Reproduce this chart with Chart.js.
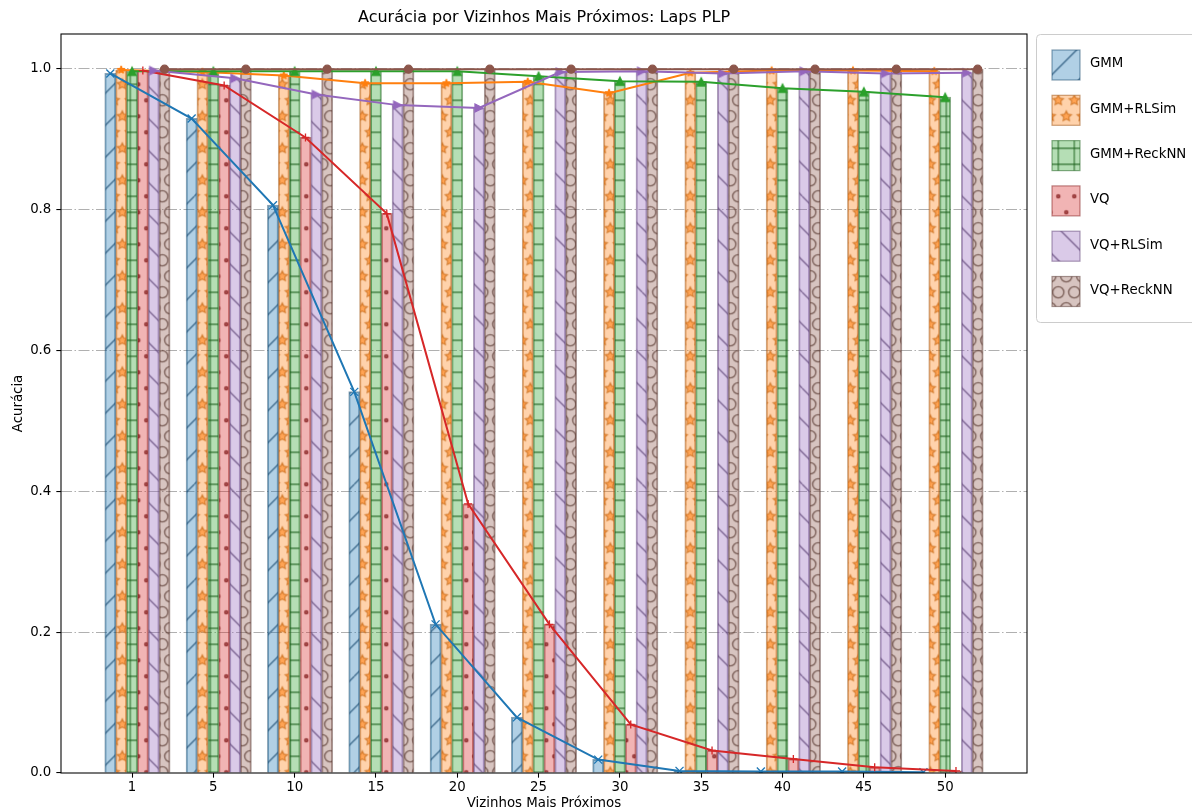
<!DOCTYPE html>
<html>
<head>
<meta charset="utf-8">
<script src="https://cdn.jsdelivr.net/npm/chart.js@4.4.1/dist/chart.umd.min.js"></script>
<style>
  html, body { margin: 0; padding: 0; background: #ffffff; }
  canvas { display: block; }
</style>
</head>
<body>
<canvas id="chart" width="1192" height="812"></canvas>
<script>
// ---------------- data ----------------
const categories = ['1', '5', '10', '15', '20', '25', '30', '35', '40', '45', '50'];
const seriesNames = ['GMM', 'GMM+RLSim', 'GMM+ReckNN', 'VQ', 'VQ+RLSim', 'VQ+ReckNN'];
const gmm        = [0.993, 0.929, 0.806, 0.541, 0.211, 0.079, 0.019, 0.003, 0.002, 0.002, 0.001];
const gmmRLSim   = [0.998, 0.995, 0.990, 0.979, 0.979, 0.981, 0.965, 0.994, 0.997, 0.997, 0.996];
const gmmReckNN  = [0.996, 0.996, 0.996, 0.996, 0.996, 0.989, 0.982, 0.981, 0.972, 0.967, 0.959];
const vq         = [0.997, 0.976, 0.902, 0.794, 0.382, 0.211, 0.069, 0.032, 0.020, 0.008, 0.003];
const vqRLSim    = [0.997, 0.986, 0.963, 0.948, 0.944, 0.995, 0.996, 0.993, 0.996, 0.993, 0.994];
const vqReckNN   = [0.999, 0.999, 0.999, 0.999, 0.999, 0.999, 0.999, 0.999, 0.999, 0.999, 0.999];
const yTicks      = [0, 0.2, 0.4, 0.6, 0.8, 1.0];
const yTickLabels = ['0.0', '0.2', '0.4', '0.6', '0.8', '1.0'];
const chartTitle = 'Acurácia por Vizinhos Mais Próximos: Laps PLP';
const xTitle = 'Vizinhos Mais Próximos';
const yTitle = 'Acurácia';

const seriesValues = [gmm, gmmRLSim, gmmReckNN, vq, vqRLSim, vqReckNN];

// ---------------- styles ----------------
const FONT = "'DejaVu Sans', 'Liberation Sans', sans-serif";
Chart.defaults.font.family = FONT;
Chart.defaults.color = '#000';

const baseColors = [[31,119,180],[255,127,14],[44,160,44],[214,39,40],[148,103,189],[140,86,75]];
const hatches = ['/', '*', '+', '.', '\\', 'O'];
const markers = ['x', 'star', 'tri-up', '+', 'tri-right', 'o'];

const rgba = (c, a) => `rgba(${c[0]},${c[1]},${c[2]},${a})`;
const darken = (c, f) => c.map(v => Math.round(v * f));

const groupWidth = 0.8;
const barW = groupWidth / seriesNames.length;
const nCat = categories.length;
const dataMin = -2 * barW - barW / 2;
const dataMax = (nCat - 1) + 3 * barW + barW / 2;
const xMargin = 0.05 * (dataMax - dataMin);
const xMin = dataMin - xMargin;
const xMax = dataMax + xMargin;
const yMax = 1.05 * Math.max(...seriesValues.flat());

const canvas = document.getElementById('chart');
const ctx = canvas.getContext('2d');

function makePattern(rgb, hatch) {
  const T = 96;
  const c = document.createElement('canvas');
  c.width = T; c.height = T;
  const g = c.getContext('2d');
  g.fillStyle = rgba(rgb, 0.35);
  g.fillRect(0, 0, T, T);
  const dark = darken(rgb, 0.6);
  g.strokeStyle = rgba(dark, 0.72);
  g.lineWidth = 1.33;
  const line = (x1, y1, x2, y2) => { g.beginPath(); g.moveTo(x1, y1); g.lineTo(x2, y2); g.stroke(); };
  const step = T / 6;
  const shapeAt = (fn) => {
    for (let r = 0; r <= 6; r++) {
      const y = T - r * step;
      if (r % 2 === 0) { for (let k = 0; k <= 6; k++) fn(k * step, y); }
      else { for (let k = 0; k < 6; k++) fn(step / 2 + k * step, y); }
    }
  };
  if (hatch === '/') {
    for (let c0 = 0; c0 <= 2 * T; c0 += T / 3) line(c0, 0, c0 - T, T);
  } else if (hatch === '\\') {
    for (let x0 = -T; x0 <= T; x0 += T / 3) line(x0, 0, x0 + T, T);
  } else if (hatch === '+') {
    for (let k = 0; k <= 6; k++) { line(0, k * step, T, k * step); line(k * step, 0, k * step, T); }
  } else if (hatch === '*') {
    const R = step / 3, r2 = R * 0.5;
    shapeAt((x, y) => {
      g.beginPath();
      for (let j = 0; j < 10; j++) {
        const rr = j % 2 ? r2 : R;
        const a = -Math.PI / 2 + j * Math.PI / 5;
        g.lineTo(x + rr * Math.cos(a), y + rr * Math.sin(a));
      }
      g.closePath();
      g.fillStyle = rgba(rgb, 0.55);
      g.fill();
      g.strokeStyle = rgba(darken(rgb, 0.75), 0.6);
      g.stroke();
    });
  } else if (hatch === '.') {
    const R = step * 0.1;
    shapeAt((x, y) => {
      g.beginPath(); g.arc(x, y, R, 0, Math.PI * 2);
      g.fillStyle = rgba(dark, 0.6); g.fill(); g.stroke();
    });
  } else if (hatch === 'O') {
    const R = step * 0.35;
    shapeAt((x, y) => { g.beginPath(); g.arc(x, y, R, 0, Math.PI * 2); g.stroke(); });
  }
  const p = ctx.createPattern(c, 'repeat');
  if (p.setTransform) p.setTransform(new DOMMatrix([1, 0, 0, 1, 2.3, 4.3]));
  return p;
}

function markerImage(shape, rgb) {
  const S = 18, cx = S / 2, r = 4;
  const c = document.createElement('canvas');
  c.width = S; c.height = S;
  const g = c.getContext('2d');
  g.beginPath();
  if (shape === 'star') {
    for (let j = 0; j < 10; j++) {
      const rr = j % 2 ? r * 0.381966 : r;
      const a = -Math.PI / 2 + j * Math.PI / 5;
      g.lineTo(cx + rr * Math.cos(a), cx + rr * Math.sin(a));
    }
    g.lineJoin = 'bevel';
  } else if (shape === 'tri-up') {
    g.moveTo(cx, cx - r); g.lineTo(cx - r, cx + r); g.lineTo(cx + r, cx + r);
    g.lineJoin = 'miter';
  } else if (shape === 'tri-right') {
    g.moveTo(cx + r, cx); g.lineTo(cx - r, cx - r); g.lineTo(cx - r, cx + r);
    g.lineJoin = 'miter';
  }
  g.closePath();
  g.fillStyle = rgba(rgb, 1);
  g.strokeStyle = rgba(rgb, 1);
  g.lineWidth = 1.33;
  g.fill(); g.stroke();
  return c;
}

const patterns = baseColors.map((c, k) => makePattern(c, hatches[k]));
const edgeColors = baseColors.map(c => rgba(darken(c, 0.6), 0.5));

function pointOpts(k) {
  const m = markers[k];
  const col = rgba(baseColors[k], 1);
  const o = { pointBackgroundColor: col, pointBorderColor: col, pointBorderWidth: 1.33 };
  if (m === 'x') { o.pointStyle = 'crossRot'; o.pointRadius = 5.66; }
  else if (m === '+') { o.pointStyle = 'cross'; o.pointRadius = 4; }
  else if (m === 'o') { o.pointStyle = 'circle'; o.pointRadius = 4; }
  else { o.pointStyle = markerImage(m, baseColors[k]); o.pointRadius = 4; }
  return o;
}

const xPos = (i, k) => i + (k - 2) * barW;

const barDatasets = seriesValues.map((vals, k) => ({
  type: 'bar',
  label: seriesNames[k],
  data: vals.map((v, i) => ({ x: xPos(i, k), y: v })),
  backgroundColor: patterns[k],
  borderColor: edgeColors[k],
  borderWidth: 1,
  inflateAmount: 0.5,
  grouped: false,
  barPercentage: 1,
  categoryPercentage: 1,
  order: 20
}));

const lineDatasets = seriesValues.map((vals, k) => Object.assign({
  type: 'line',
  label: seriesNames[k] + ' (linha)',
  data: vals.map((v, i) => ({ x: xPos(i, k), y: v })),
  borderColor: rgba(baseColors[k], 1),
  backgroundColor: rgba(baseColors[k], 1),
  borderWidth: 2,
  tension: 0,
  fill: false,
  order: 10 - k
}, pointOpts(k)));

const frameAndLegend = {
  id: 'frameAndLegend',
  afterDatasetsDraw(chart) {
    const { ctx: c, chartArea: a } = chart;
    c.save();
    c.strokeStyle = '#000';
    c.lineWidth = 1.07;
    c.strokeRect(a.left, a.top, a.right - a.left, a.bottom - a.top);
    c.restore();
  },
  afterDraw(chart) {
    const { ctx: c, chartArea: a } = chart;
    c.save();
    const fx = Math.round(a.right) + 9.5, fy = a.top + 0.5, fw = 220, fh = 288, rr = 4;
    c.beginPath();
    c.moveTo(fx + rr, fy);
    c.lineTo(fx + fw - rr, fy); c.arcTo(fx + fw, fy, fx + fw, fy + rr, rr);
    c.lineTo(fx + fw, fy + fh - rr); c.arcTo(fx + fw, fy + fh, fx + fw - rr, fy + fh, rr);
    c.lineTo(fx + rr, fy + fh); c.arcTo(fx, fy + fh, fx, fy + fh - rr, rr);
    c.lineTo(fx, fy + rr); c.arcTo(fx, fy, fx + rr, fy, rr);
    c.closePath();
    c.fillStyle = 'rgba(255,255,255,0.8)';
    c.fill();
    c.strokeStyle = '#cccccc';
    c.lineWidth = 1;
    c.stroke();
    const px = Math.round(a.right) + 25, pw = 28, ph = 30;
    c.font = `13.33px ${FONT}`;
    c.textBaseline = 'middle';
    c.textAlign = 'left';
    seriesNames.forEach((name, k) => {
      const cy = a.top + 31 + k * 45.3;
      c.fillStyle = patterns[k];
      c.fillRect(px, cy - ph / 2, pw, ph);
      c.strokeStyle = edgeColors[k];
      c.lineWidth = 1.2;
      c.strokeRect(px, cy - ph / 2, pw, ph);
      c.fillStyle = '#000';
      c.fillText(name, px + 38, cy - 1);
    });
    c.restore();
  }
};

new Chart(ctx, {
  type: 'bar',
  data: { datasets: [...barDatasets, ...lineDatasets] },
  options: {
    responsive: false,
    animation: false,
    events: [],
    layout: { padding: { left: 0, right: 165, top: 0, bottom: 0 } },
    plugins: {
      legend: { display: false },
      tooltip: { enabled: false },
      title: {
        display: true,
        text: chartTitle,
        fullSize: false,
        color: '#000',
        font: { size: 16, weight: 'normal', lineHeight: 1.2 },
        padding: { top: 7.8, bottom: 7 }
      }
    },
    scales: {
      x: {
        type: 'linear',
        position: 'bottom',
        min: xMin,
        max: xMax,
        bounds: 'data',
        offset: false,
        grid: { offset: false, color: 'rgba(0,0,0,0)', drawTicks: true, tickColor: '#000', tickLength: 4.67, tickWidth: 1.07 },
        border: { display: false },
        afterBuildTicks: s => { s.ticks = categories.map((_, i) => ({ value: i })); },
        ticks: {
          autoSkip: false, maxRotation: 0, minRotation: 0, padding: 2.3, color: '#000',
          font: { size: 13.33 },
          callback: (v, i) => categories[i]
        },
        title: { display: true, text: xTitle, color: '#000', font: { size: 13.33 }, padding: { top: 0, bottom: 0 } },
        afterFit: s => { s.height = 39; }
      },
      y: {
        type: 'linear',
        min: 0,
        max: yMax,
        bounds: 'data',
        afterBuildTicks: s => { s.ticks = yTicks.map(v => ({ value: v })); },
        ticks: { padding: 5, color: '#000', font: { size: 13.33 }, callback: (v, i) => yTickLabels[i] },
        grid: {
          color: c => (c.tick && c.tick.value === 0) ? 'rgba(0,0,0,0)' : '#b0b0b0',
          lineWidth: 1.1,
          drawTicks: true, tickColor: '#000', tickLength: 4.67, tickWidth: 1.07
        },
        border: { display: false, dash: [11, 2.5, 1.5, 2.5] },
        title: { display: true, text: yTitle, color: '#000', font: { size: 13.33 }, padding: { top: 10.5, bottom: 0 } },
        afterFit: s => { s.width = 61; }
      }
    }
  },
  plugins: [frameAndLegend]
});
</script>
</body>
</html>
